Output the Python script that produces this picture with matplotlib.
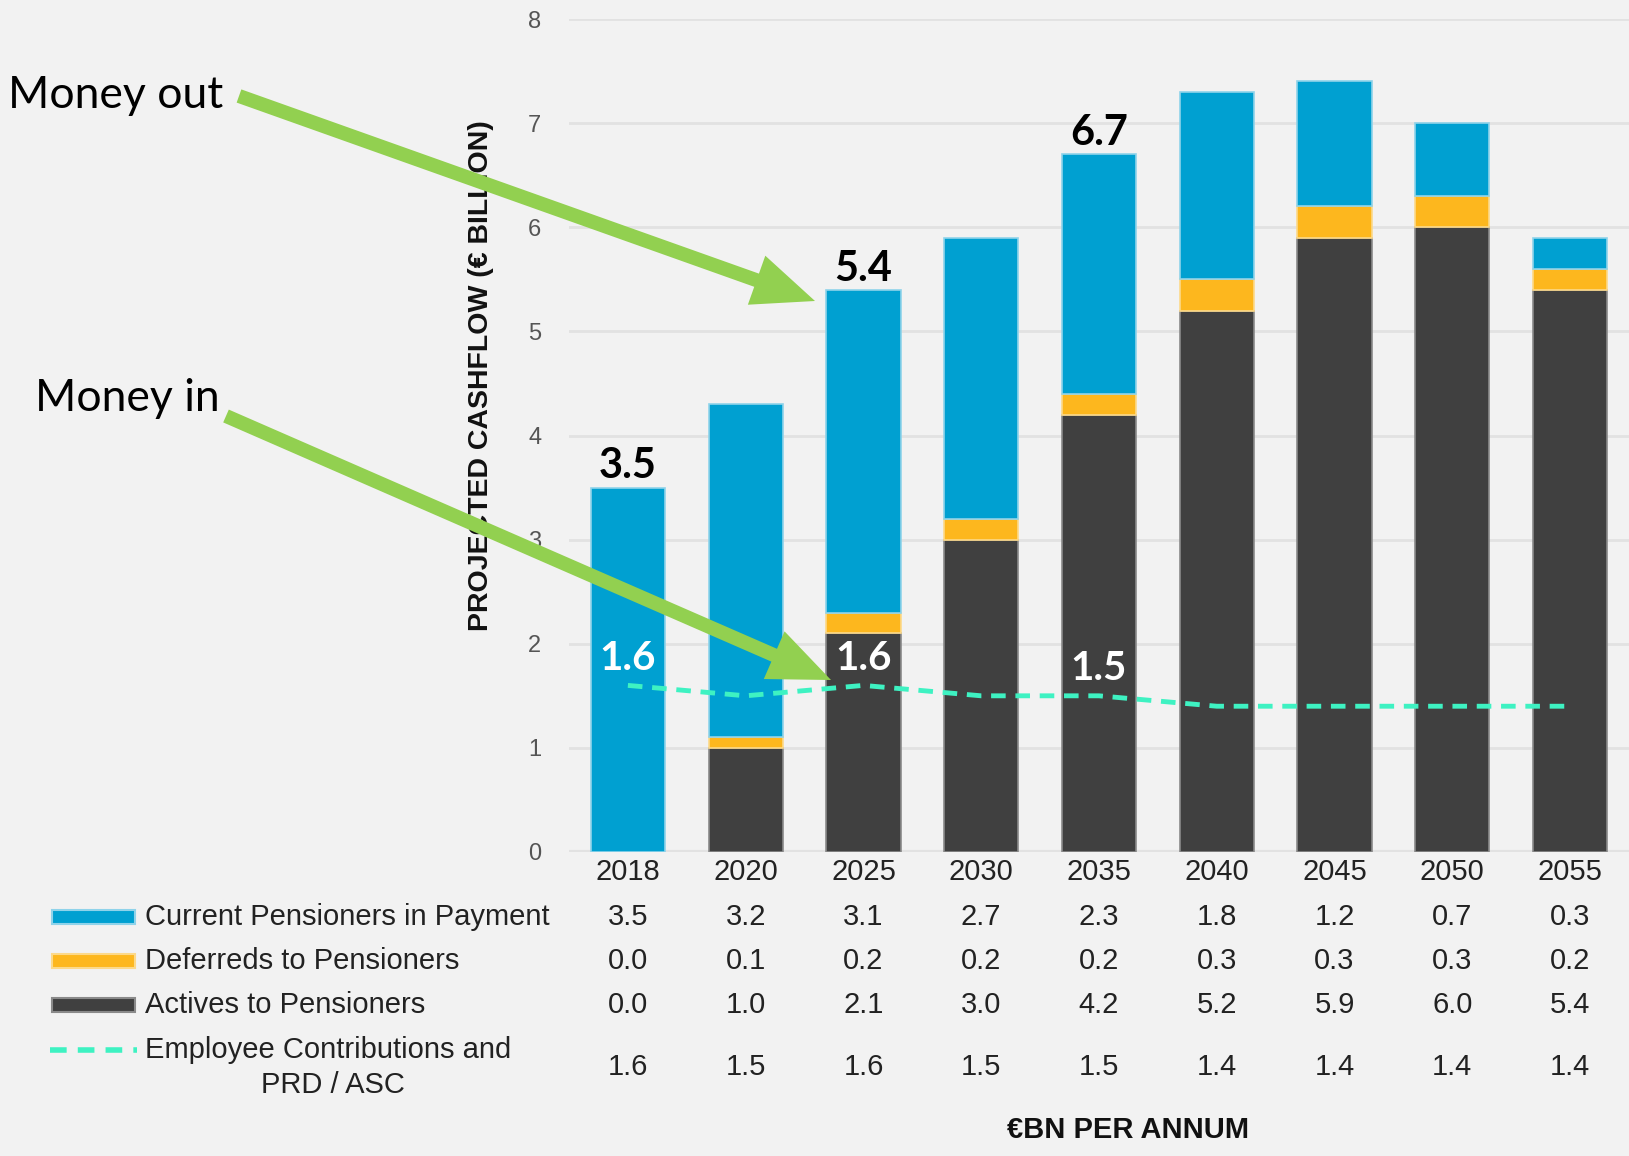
import matplotlib
matplotlib.use("Agg")
import matplotlib.pyplot as plt
import matplotlib.patches as mpatches
import matplotlib.transforms as mtransforms
from matplotlib.lines import Line2D
import numpy as np

years = ["2018", "2020", "2025", "2030", "2035", "2040", "2045", "2050", "2055"]
current_pensioners = [3.5, 3.2, 3.1, 2.7, 2.3, 1.8, 1.2, 0.7, 0.3]
deferreds = [0.0, 0.1, 0.2, 0.2, 0.2, 0.3, 0.3, 0.3, 0.2]
actives = [0.0, 1.0, 2.1, 3.0, 4.2, 5.2, 5.9, 6.0, 5.4]
contributions = [1.6, 1.5, 1.6, 1.5, 1.5, 1.4, 1.4, 1.4, 1.4]

series_names = ["Current Pensioners in Payment", "Deferreds to Pensioners",
                "Actives to Pensioners", "Employee Contributions and\nPRD / ASC"]

total_labels = {0: "3.5", 2: "5.4", 4: "6.7"}
line_labels = {0: "1.6", 2: "1.6", 4: "1.5"}

BG = "#f2f2f2"
BLUE = "#00a0d1"
ORANGE = "#fdb71e"
DARK = "#404040"
TEAL = "#3ef2c2"
GREEN = "#92d050"

W, H = 1629, 1156
fig = plt.figure(figsize=(W / 100, H / 100), dpi=100, facecolor=BG)
ax = fig.add_axes([569 / W, 1 - 852 / H, 1 - 569 / W, (852 - 19) / H])
ax.set_facecolor(BG)

x = np.arange(len(years))
bw = 0.63
actives_a = np.array(actives)
deferreds_a = np.array(deferreds)
current_a = np.array(current_pensioners)

ax.bar(x, actives_a, bw, color=DARK, edgecolor="#8a8a8a", linewidth=1.2, zorder=2)
ax.bar(x, deferreds_a, bw, bottom=actives_a, color=ORANGE, edgecolor="#fcd98a",
       linewidth=1.2, zorder=2)
ax.bar(x, current_a, bw, bottom=actives_a + deferreds_a, color=BLUE,
       edgecolor="#8fd3ea", linewidth=1.2, zorder=2)

ax.plot(x, contributions, color=TEAL, lw=3.5, dashes=(3, 2), zorder=3)

ax.set_xlim(-0.5, 8.5)
ax.set_ylim(0, 8)
ax.set_yticks(range(0, 9))
ax.yaxis.grid(True, color="#e2e2e2", lw=2, zorder=0)
ax.set_axisbelow(True)
for s in ax.spines.values():
    s.set_visible(False)
ax.tick_params(axis="y", length=0, pad=20, labelsize=17, labelcolor="#555555")
ax.tick_params(axis="x", length=0, labelbottom=False)
for lab in ax.get_yticklabels():
    lab.set_fontfamily("Liberation Sans")

ax.axhline(0, color="#e2e2e2", lw=3, zorder=1)

totals = actives_a + deferreds_a + current_a
for i, t in total_labels.items():
    ax.text(x[i], totals[i] + 0.02, t, ha="center", va="bottom", fontsize=30,
            fontweight="bold", family="Lato", color="black", zorder=5)
for i, t in line_labels.items():
    ax.text(x[i], contributions[i] + 0.26, t, ha="center", va="center", fontsize=29,
            fontweight="bold", family="Lato", color="white", zorder=5)

# Y axis title
fig.text(481 / W, 1 - 376 / H, "PROJECTED CASHFLOW (€ BILLION)", rotation=90,
         ha="center", va="center", fontsize=20.5, fontweight="bold",
         family="Liberation Sans", color="#111111")

# Data table below the chart
tr = mtransforms.blended_transform_factory(ax.transData, fig.transFigure)
row_y = [917, 961, 1005, 1067]
tfont = dict(family="Liberation Sans", fontsize=21, color="#222222")
for i, yr in enumerate(years):
    ax.text(x[i], 1 - 872 / H, yr, transform=tr, ha="center", va="center", **tfont)
for row, vals in enumerate([current_pensioners, deferreds, actives, contributions]):
    for i, v in enumerate(vals):
        ax.text(x[i], 1 - row_y[row] / H, f"{v:.1f}", transform=tr, ha="center",
                va="center", clip_on=False, **tfont)

# Legend keys and names
key_colors = [BLUE, ORANGE, DARK]
key_edges = ["#8fd3ea", "#fcd98a", "#8a8a8a"]
for row in range(3):
    yc = 1 - row_y[row] / H
    fig.patches.append(mpatches.Rectangle((52 / W, yc - 7 / H), 83 / W, 14 / H,
                                          transform=fig.transFigure,
                                          facecolor=key_colors[row],
                                          edgecolor=key_edges[row], lw=1.5))
    fig.text(145 / W, yc, series_names[row], ha="left", va="center", **tfont)
fig.lines.append(Line2D([50 / W, 137 / W], [1 - 1050 / H] * 2, transform=fig.transFigure,
                        color=TEAL, lw=4, dashes=(3, 2)))
fig.text(145 / W, 1 - 1050 / H, "Employee Contributions and", ha="left", va="center", **tfont)
fig.text(333 / W, 1 - 1085 / H, "PRD / ASC", ha="center", va="center", **tfont)

fig.text(1128 / W, 1 - 1130 / H, "€BN PER ANNUM", ha="center", va="center",
         fontsize=21, fontweight="bold", family="Liberation Sans", color="#111111")

# Annotations
fig.text(8 / W, 1 - 96 / H, "Money out", ha="left", va="center", fontsize=32,
         family="Lato", color="black")
fig.text(35 / W, 1 - 398 / H, "Money in", ha="left", va="center", fontsize=32,
         family="Lato", color="black")

ident = mtransforms.IdentityTransform()
for (x0, y0), (x1, y1) in [((239, 96), (815, 301)), ((226, 416), (831, 680))]:
    arr = mpatches.FancyArrow(x0, H - y0, x1 - x0, -(y1 - y0), width=14,
                              head_width=52, head_length=62,
                              length_includes_head=True, transform=ident,
                              color=GREEN, lw=0, zorder=10)
    fig.patches.append(arr)

fig.savefig("out.png", dpi=100, facecolor=BG)
